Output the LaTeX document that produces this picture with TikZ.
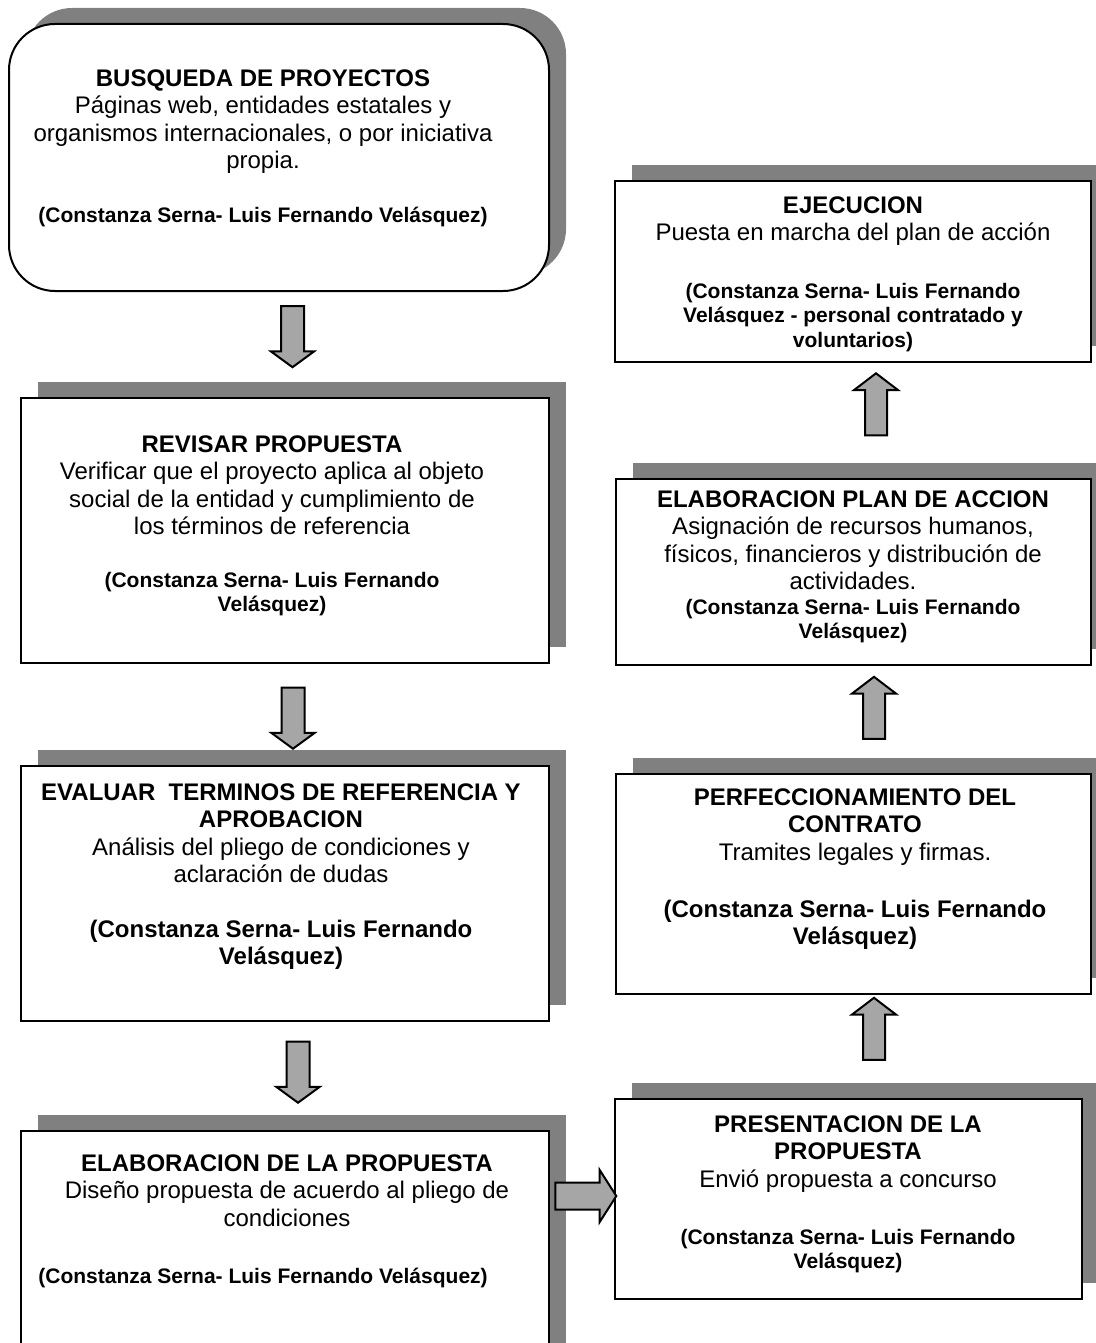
\documentclass[tikz,border=0pt]{standalone}
\usepackage{fontspec}
\setmainfont{Liberation Sans}
\usetikzlibrary{shapes.arrows,shadows}
\definecolor{shadowgray}{HTML}{808080}
\definecolor{arrowgray}{HTML}{A6A6A6}
\newcommand\tstrut{\rule{0pt}{10pt}}
\tikzset{
  box/.style={draw, line width=1pt, fill=white, inner sep=0pt, anchor=north west,
    drop shadow={shadow xshift=8.5pt, shadow yshift=8pt, fill=shadowgray, opacity=1, fill opacity=1}},
  txt/.style={inner sep=0pt, anchor=north, align=center, font=\fontsize{12}{13.75}\selectfont},
  attrsmall/.style={inner sep=0pt, anchor=north, align=center, font=\fontsize{10.5}{12.2}\selectfont\bfseries},
  attrbig/.style={inner sep=0pt, anchor=north, align=center, font=\fontsize{12}{13.75}\selectfont\bfseries},
  blockarrow/.style={single arrow, draw, line width=1pt, fill=arrowgray, inner xsep=0pt},
  vdown/.style={blockarrow, rotate=-90, minimum height=30.5pt, inner ysep=5.25pt,
    single arrow head extend=5pt, single arrow tip angle=107.6},
  vup/.style={blockarrow, rotate=90, minimum height=31pt, inner ysep=5pt,
    single arrow head extend=5.5pt, single arrow tip angle=105.4},
  hright/.style={blockarrow, minimum height=30.5pt, inner ysep=6.25pt,
    single arrow head extend=6.25pt, single arrow tip angle=114.8},
}
\begin{document}
\begin{tikzpicture}[x=0.5pt, y=-0.5pt]
\useasboundingbox (0,0) rectangle (1096,1343);
\clip (0,0) rectangle (1096,1343);

% left column
\node[box, rounded corners=23pt, minimum width=270pt, minimum height=133.5pt] (b1) at (8,23) {};
\node[txt] (t1) at (263,66) {\tstrut\textbf{BUSQUEDA DE PROYECTOS}\\
  Páginas web, entidades estatales y\\
  organismos internacionales, o por iniciativa\\
  propia.};
\node[attrsmall] (r1) at (263,202) {\tstrut(Constanza Serna- Luis Fernando Velásquez)};

\node[box, minimum width=264pt, minimum height=132.5pt] (b2) at (20,397) {};
\node[txt] (t2) at (272,432) {\tstrut\textbf{REVISAR PROPUESTA}\\
  Verificar que el proyecto aplica al objeto\\
  social de la entidad y cumplimiento de\\
  los términos de referencia};
\node[attrsmall] (r2) at (272,567) {\tstrut(Constanza Serna- Luis Fernando\\Velásquez)};

\node[box, minimum width=264pt, minimum height=127.5pt] (b3) at (20,765) {};
\node[txt] (t3) at (281,780) {\tstrut\textbf{EVALUAR\ \ TERMINOS DE REFERENCIA Y}\\
  \textbf{APROBACION}\\
  Análisis del pliego de condiciones y\\
  aclaración de dudas};
\node[attrbig] (r3) at (281,917) {\tstrut(Constanza Serna- Luis Fernando\\Velásquez)};

\node[box, minimum width=264pt, minimum height=120pt] (b4) at (20,1130) {};
\node[txt] (t4) at (287,1151) {\tstrut\textbf{ELABORACION DE LA PROPUESTA}\\
  Diseño propuesta de acuerdo al pliego de\\
  condiciones};
\node[attrsmall, anchor=north west] (r4) at (38,1263) {\tstrut(Constanza Serna- Luis Fernando Velásquez)};

% right column
\node[box, minimum width=233.5pt, minimum height=100pt] (b5) at (614,1098) {};
\node[txt] (t5) at (848,1112) {\tstrut\textbf{PRESENTACION DE LA}\\
  \textbf{PROPUESTA}\\
  Envió propuesta a concurso};
\node[attrsmall] (r5) at (848,1224) {\tstrut(Constanza Serna- Luis Fernando\\Velásquez)};

\node[box, minimum width=237.5pt, minimum height=110pt] (b6) at (615,773) {};
\node[txt] (t6) at (855,785) {\tstrut\textbf{PERFECCIONAMIENTO DEL}\\
  \textbf{CONTRATO}\\
  Tramites legales y firmas.};
\node[attrbig] (r6) at (855,897) {\tstrut(Constanza Serna- Luis Fernando\\Velásquez)};

\node[box, minimum width=237.5pt, minimum height=93pt] (b7) at (615,478) {};
\node[txt] (t7) at (853,487) {\tstrut\textbf{ELABORACION PLAN DE ACCION}\\
  Asignación de recursos humanos,\\
  físicos, financieros y distribución de\\
  actividades.};
\node[attrsmall] (r7) at (853,594) {\tstrut(Constanza Serna- Luis Fernando\\Velásquez)};

\node[box, minimum width=238pt, minimum height=90.5pt] (b8) at (614,180) {};
\node[txt] (t8) at (853,193) {\tstrut\textbf{EJECUCION}\\
  Puesta en marcha del plan de acción};
\node[attrsmall] (r8) at (853,278) {\tstrut(Constanza Serna- Luis Fernando\\
  Velásquez - personal contratado y\\voluntarios)};

% block arrows between the steps
\node[vdown] (a1) at (292.5,332.5) {};
\node[vdown] (a2) at (293,714) {};
\node[vdown] (a3) at (298,1068) {};
\node[hright] (a4) at (581.5,1196) {};
\node[vup] (a5) at (876,408.5) {};
\node[vup] (a6) at (874,712) {};
\node[vup] (a7) at (874,1033) {};
\end{tikzpicture}
\end{document}
